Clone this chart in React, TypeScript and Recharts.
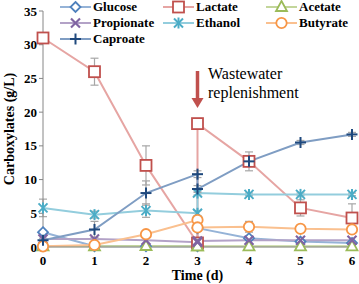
import React from "react";
import {
  LineChart,
  Line,
  XAxis,
  YAxis,
  ErrorBar,
  ReferenceLine,
} from "recharts";

// time points; day 3 appears twice (before / after wastewater replenishment)
const days = [0, 1, 2, 3, 3, 4, 5, 6];
const glucose = [2.2, 0.1, 0.1, 0.1, 2.8, 1.3, 0.8, 0.6];
const lactate = [31, 26, 12.1, 0.6, 18.3, 12.7, 5.8, 4.3];
const lactateErr = [0.3, 2, 2.9, 0, 0.6, 1.4, 1.2, 2.1];
const acetate = [0.1, 0.1, 0.15, 0.1, 0.1, 0.1, 0.1, 0.1];
const propionate = [1.2, 1.2, 1.0, 0.7, 0.9, 1.0, 1.0, 1.0];
const ethanol = [5.8, 4.8, 5.4, 5.0, 8.0, 7.8, 7.8, 7.8];
const ethanolErr = [1.3, 0.5, 1.0, 0.4, 0.3, 0.2, 0.2, 0.2];
const butyrate = [0.1, 0.3, 1.9, 4.0, 2.9, 3.0, 2.7, 2.6];
const butyrateErr = [0.1, 0.2, 0.4, 0.3, 0.3, 0.8, 0.3, 0.2];
const caproate = [1.0, 2.6, 8.0, 10.8, 8.6, 12.7, 15.5, 16.7];
const caproateErr = [0.3, 1.2, 1.8, 0.5, 0.5, 0.6, 0.3, 0.3];

const yTicks = [0, 5, 10, 15, 20, 25, 30, 35];
const xTicks = [0, 1, 2, 3, 4, 5, 6];

const data = days.map((d, i) => ({
  day: d,
  glucose: glucose[i],
  lactate: lactate[i],
  lactateErr: lactateErr[i],
  acetate: acetate[i],
  propionate: propionate[i],
  ethanol: ethanol[i],
  ethanolErr: ethanolErr[i],
  butyrate: butyrate[i],
  butyrateErr: butyrateErr[i],
  caproate: caproate[i],
  caproateErr: caproateErr[i],
}));

type Shape = "diamond" | "square" | "triangle" | "x" | "star" | "circle" | "plus";

const series: { key: string; name: string; line: string; mark: string; shape: Shape; err?: string }[] = [
  { key: "glucose", name: "Glucose", line: "#95b3d7", mark: "#4f81bd", shape: "diamond" },
  { key: "lactate", name: "Lactate", line: "#e6a5a3", mark: "#c0504d", shape: "square", err: "lactateErr" },
  { key: "acetate", name: "Acetate", line: "#c3d69b", mark: "#9bbb59", shape: "triangle" },
  { key: "propionate", name: "Propionate", line: "#b3a2c7", mark: "#8064a2", shape: "x" },
  { key: "ethanol", name: "Ethanol", line: "#93cddd", mark: "#4bacc6", shape: "star", err: "ethanolErr" },
  { key: "butyrate", name: "Butyrate", line: "#fac08f", mark: "#f79646", shape: "circle", err: "butyrateErr" },
  { key: "caproate", name: "Caproate", line: "#7f9dc3", mark: "#1f497d", shape: "plus", err: "caproateErr" },
];

function Mark({ shape, cx, cy, color }: { shape: Shape; cx: number; cy: number; color: string }) {
  const sw = 1.8;
  switch (shape) {
    case "diamond":
      return (
        <polygon
          points={`${cx},${cy - 5} ${cx + 5},${cy} ${cx},${cy + 5} ${cx - 5},${cy}`}
          fill="#fff"
          stroke={color}
          strokeWidth={sw}
        />
      );
    case "square":
      return <rect x={cx - 5.5} y={cy - 5.5} width={11} height={11} fill="#fff" stroke={color} strokeWidth={sw} />;
    case "triangle":
      return (
        <polygon
          points={`${cx},${cy - 6} ${cx + 5.5},${cy + 4} ${cx - 5.5},${cy + 4}`}
          fill="#fff"
          stroke={color}
          strokeWidth={sw}
        />
      );
    case "x":
      return (
        <g stroke={color} strokeWidth={2.2}>
          <line x1={cx - 4.5} y1={cy - 4.5} x2={cx + 4.5} y2={cy + 4.5} />
          <line x1={cx - 4.5} y1={cy + 4.5} x2={cx + 4.5} y2={cy - 4.5} />
        </g>
      );
    case "star":
      return (
        <g stroke={color} strokeWidth={2}>
          <line x1={cx - 4.5} y1={cy - 4.5} x2={cx + 4.5} y2={cy + 4.5} />
          <line x1={cx - 4.5} y1={cy + 4.5} x2={cx + 4.5} y2={cy - 4.5} />
          <line x1={cx} y1={cy - 5.5} x2={cx} y2={cy + 5.5} />
        </g>
      );
    case "circle":
      return <circle cx={cx} cy={cy} r={5.2} fill="#fff" stroke={color} strokeWidth={sw} />;
    case "plus":
    default:
      return (
        <g stroke={color} strokeWidth={2}>
          <line x1={cx - 5.5} y1={cy} x2={cx + 5.5} y2={cy} />
          <line x1={cx} y1={cy - 5.5} x2={cx} y2={cy + 5.5} />
        </g>
      );
  }
}

const font = "'Liberation Serif', 'Times New Roman', serif";

function LegendBox() {
  const cols = [60, 163, 266];
  const rows = [7, 23, 39];
  return (
    <div style={{ position: "absolute", left: 0, top: 0, width: 359, height: 50, pointerEvents: "none" }}>
      {series.map((s, i) => {
        const x = cols[i % 3];
        const y = rows[Math.floor(i / 3)];
        return (
          <div
            key={s.key}
            style={{
              position: "absolute",
              left: x,
              top: y - 7,
              height: 14,
              lineHeight: "14px",
              display: "flex",
              alignItems: "center",
              fontFamily: font,
              fontWeight: "bold",
              fontSize: 13,
              color: "#000",
            }}
          >
            <svg width={31} height={14} style={{ marginRight: 2 }}>
              <line x1={0} y1={7} x2={31} y2={7} stroke={s.line} strokeWidth={2} />
              <Mark shape={s.shape} cx={15.5} cy={7} color={s.mark} />
            </svg>
            {s.name}
          </div>
        );
      })}
    </div>
  );
}

function Arrow(props: any) {
  const { x1, y1, x2, y2 } = props;
  const c = "#c0504d";
  return (
    <g>
      <line x1={x1} y1={y1} x2={x2} y2={y2 - 8} stroke={c} strokeWidth={3.5} />
      <polygon points={`${x2 - 6},${y2 - 10} ${x2 + 6},${y2 - 10} ${x2},${y2}`} fill={c} />
    </g>
  );
}

export default function App() {
  return (
    <div style={{ position: "absolute", left: 0, top: 0, width: 359, height: 284, background: "#fff" }}>
      <LineChart width={359} height={284} data={data} margin={{ top: 11, right: 7, bottom: 0, left: 13 }}>
        <XAxis
          dataKey="day"
          type="number"
          domain={[0, 6]}
          ticks={xTicks}
          stroke="#868686"
          tickLine={false}
          height={37}
          tick={{ fill: "#000", fontSize: 13, fontWeight: "bold", fontFamily: font }}
          tickMargin={3}
          label={{
            value: "Time (d)",
            position: "insideBottom",
            offset: 4,
            style: { fill: "#000", fontSize: 14, fontWeight: "bold", fontFamily: font },
          }}
        />
        <YAxis
          type="number"
          domain={[0, 35]}
          ticks={yTicks}
          width={30}
          stroke="#868686"
          tickSize={4}
          tick={{ fill: "#000", fontSize: 13, fontWeight: "bold", fontFamily: font }}
          label={{
            value: "Carboxylates (g/L)",
            angle: -90,
            position: "left",
            offset: 4,
            style: { fill: "#000", fontSize: 14, fontWeight: "bold", fontFamily: font, textAnchor: "middle" },
          }}
        />
        <ReferenceLine
          segment={[
            { x: 3, y: 26.1 },
            { x: 3, y: 20.6 },
          ]}
          shape={Arrow}
          ifOverflow="visible"
        />
        {series.map((s) => (
          <Line
            key={s.key}
            dataKey={s.key}
            name={s.name}
            stroke={s.line}
            strokeWidth={2}
            isAnimationActive={false}
            dot={(p: any) => <Mark key={`${s.key}-${p.index}`} shape={s.shape} cx={p.cx} cy={p.cy} color={s.mark} />}
            activeDot={false}
          >
            {s.err ? <ErrorBar dataKey={s.err} direction="y" width={4} stroke="#a6a6a6" strokeWidth={1.2} /> : null}
          </Line>
        ))}
      </LineChart>
      <LegendBox />
      <div
        style={{
          position: "absolute",
          left: 208,
          top: 64,
          fontFamily: font,
          fontSize: 16,
          lineHeight: "19px",
          color: "#000",
        }}
      >
        Wastewater
        <br />
        replenishment
      </div>
    </div>
  );
}
